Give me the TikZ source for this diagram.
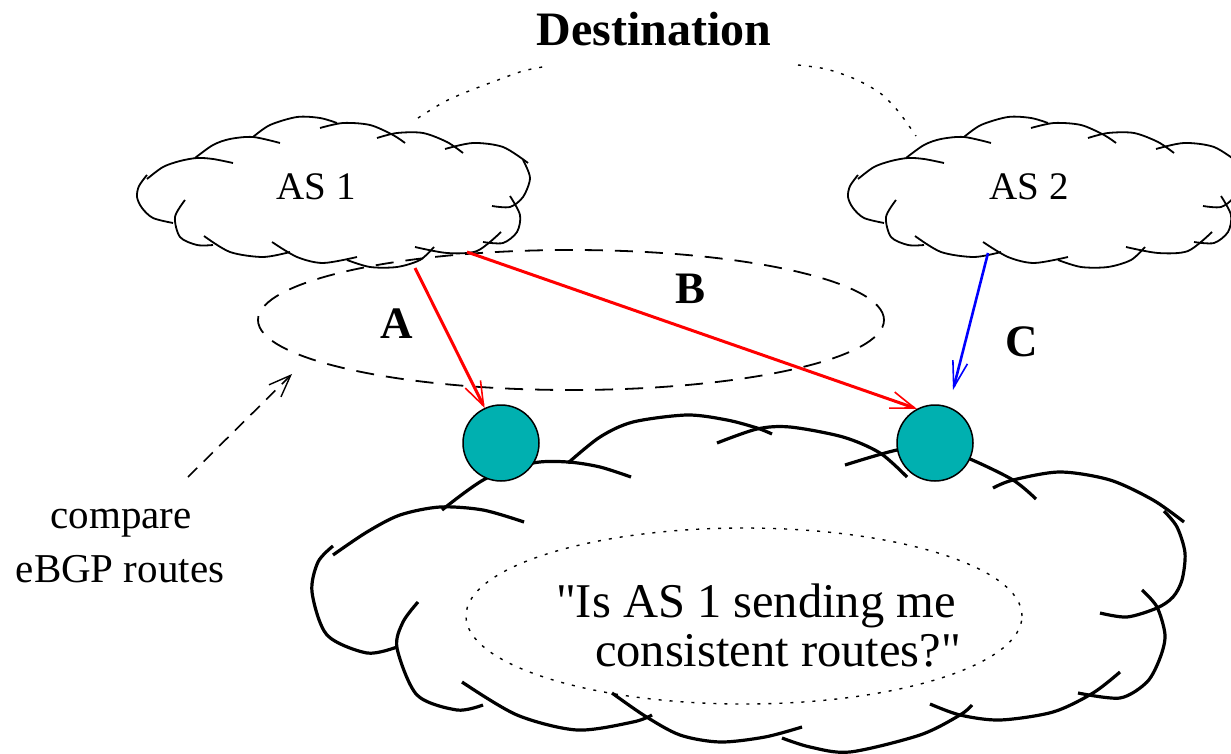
\documentclass[tikz,border=0pt]{standalone}
\usepackage{fontspec}
\newfontfamily\tf{Liberation Serif}
\usetikzlibrary{arrows.meta}
\definecolor{nodeteal}{RGB}{0,176,176}
\tikzset{
  smallcloud/.pic={
    \draw[thincloud] plot[smooth] coordinates {(147,175) (139,186) (137,197) (142,208) (153,218) (173,223)};
    \draw[thincloud] plot[smooth] coordinates {(147,179) (163,167) (180,161) (197,158) (213,159) (233,163)};
    \draw[thincloud] plot[smooth] coordinates {(195,158) (213,145) (230,139) (253,137) (280,143)};
    \draw[thincloud] plot[smooth] coordinates {(253,137) (270,125) (297,117) (320,118) (337,123)};
    \draw[thincloud] plot[smooth] coordinates {(320,128) (343,123) (370,125) (393,135) (405,143)};
    \draw[thincloud] plot[smooth] coordinates {(377,138) (397,133) (423,133) (447,142) (463,153)};
    \draw[thincloud] plot[smooth] coordinates {(445,149) (473,143) (503,147) (528,163)};
    \draw[thincloud] plot[smooth] coordinates {(492,206) (510,207) (523,197) (530,178) (523,160)};
    \draw[thincloud] plot[smooth] coordinates {(483,242) (503,243) (517,232) (520,215) (510,196)};
    \draw[thincloud] plot[smooth] coordinates {(415,247) (447,253) (477,251) (501,232)};
    \draw[thincloud] plot[smooth] coordinates {(347,260) (370,267) (397,267) (420,260) (434,247)};
    \draw[thincloud] plot[smooth] coordinates {(272,242) (297,257) (323,263) (357,257)};
    \draw[thincloud] plot[smooth] coordinates {(204,236) (230,252) (263,257) (290,252)};
    \draw[thincloud] plot[smooth] coordinates {(185,200) (175,217) (180,237) (197,245) (213,245)};
  },
  thincloud/.style={line width=1.8pt},
  bigcloud/.style={line width=3.2pt},
  txt/.style={inner sep=0pt, anchor=base, font=\tf\fontsize{#1}{#1}\selectfont},
  boldtxt/.style={inner sep=0pt, anchor=base, font=\tf\bfseries\fontsize{#1}{#1}\selectfont},
  router/.style={circle, draw, fill=nodeteal, line width=1.5pt, minimum size=76pt, inner sep=0pt},
  redarrow/.style={draw=red, line width=3pt, -{Straight Barb[length=24pt, width=17pt, line width=1.6pt]}},
  bluearrow/.style={draw=blue, line width=2.6pt, -{Straight Barb[length=26pt, width=15pt, line width=1.6pt]}},
  cmparrow/.style={line width=1.6pt, dash pattern=on 13pt off 9pt, -{Straight Barb[length=22pt, width=17pt, line width=1.4pt]}},
  dotline/.style={line width=1.4pt, dash pattern=on 3pt off 8pt},
}
\begin{document}
\begin{tikzpicture}[x=1pt,y=-1pt]
\useasboundingbox (0,0) rectangle (1231,754);

% destination
\node[boldtxt=48] (dest) at (654,46) {Destination};
\draw[dotline] plot[smooth] coordinates {(418,118) (444,102) (469,91) (498,80) (523,71) (548,66)};
\draw[dotline] plot[smooth] coordinates {(798,65) (826,69) (855,79) (880,93) (898,111) (916,136)};

% small clouds
\pic at (0,0) {smallcloud};
\pic at (711,0) {smallcloud};
\node[txt=39] (as1) at (316,200) {AS 1};
\node[txt=39] (as2) at (1029,200) {AS 2};

% dashed comparison ellipse
\draw[line width=1.8pt, dash pattern=on 18pt off 12pt] (571,320) ellipse [x radius=313pt, y radius=70pt];

% big cloud
\draw[bigcloud] plot[smooth] coordinates {(333,555) (367,532) (400,515) (440,507) (483,510) (524,522)};
\draw[bigcloud] plot[smooth] coordinates {(442,510) (485,479) (533,463) (568,462) (600,467) (631,477)};
\draw[bigcloud] plot[smooth] coordinates {(568,463) (600,437) (633,422) (687,415) (727,420) (757,428) (772,434)};
\draw[bigcloud] plot[smooth] coordinates {(717,443) (757,429) (790,427) (843,437) (880,453) (907,477)};
\draw[bigcloud] plot[smooth] coordinates {(845,465) (897,450) (935,447) (970,459) (1013,480) (1036,499)};
\draw[bigcloud] plot[smooth] coordinates {(993,488) (1013,480) (1060,472) (1110,480) (1153,500) (1184,522)};
\draw[bigcloud] plot[smooth] coordinates {(1164,511) (1177,527) (1185,553) (1182,580) (1173,597) (1157,608) (1127,617) (1100,613)};
\draw[bigcloud] plot[smooth] coordinates {(1142,590) (1157,607) (1165,635) (1160,658) (1147,682) (1120,698) (1078,693)};
\draw[bigcloud] plot[smooth] coordinates {(1120,672) (1093,693) (1053,712) (1000,720) (960,715) (930,704)};
\draw[bigcloud] plot[smooth] coordinates {(972,705) (960,715) (920,735) (850,752) (810,747) (782,738)};
\draw[bigcloud] plot[smooth] coordinates {(802,727) (765,737) (720,742) (680,735) (645,716) (612,693)};
\draw[bigcloud] plot[smooth] coordinates {(652,715) (633,722) (577,730) (517,715) (462,682)};
\draw[bigcloud] plot[smooth] coordinates {(483,705) (457,710) (417,695) (397,648) (403,622) (418,602)};
\draw[bigcloud] plot[smooth] coordinates {(333,546) (318,562) (312,592) (327,635) (367,653) (397,647)};

% dotted question ellipse and text
\draw[dotline] (744,616) ellipse [x radius=278pt, y radius=88pt];
\node[txt=48.5] (q1) at (756,617) {"Is AS 1 sending me};
\node[txt=48.5] (q2) at (778,666) {consistent routes?"};

% routers
\node[router] (r1) at (501,443) {};
\node[router] (r2) at (935,443) {};

% arrows
\coordinate (aStart) at (415,268);
\coordinate (bStart) at (467,252);
\coordinate (cStart) at (988,253);
\coordinate (cTip) at (953,390);
\draw[redarrow] (aStart) -- (r1.115);
\draw[redarrow] (bStart) -- (r2.118);
\draw[bluearrow] (cStart) -- (cTip);
\node[boldtxt=45] (la) at (397,338) {A};
\node[boldtxt=45] (lb) at (690,303) {B};
\node[boldtxt=45] (lc) at (1021.5,356) {C};

% compare note
\node[txt=41] (cmp1) at (121,528) {compare};
\node[txt=41] (cmp2) at (120,582) {eBGP routes};
\coordinate (cmpTail) at (188,477);
\coordinate (cmpTip) at (292,374);
\draw[cmparrow] (cmpTail) -- (cmpTip);
\end{tikzpicture}
\end{document}
